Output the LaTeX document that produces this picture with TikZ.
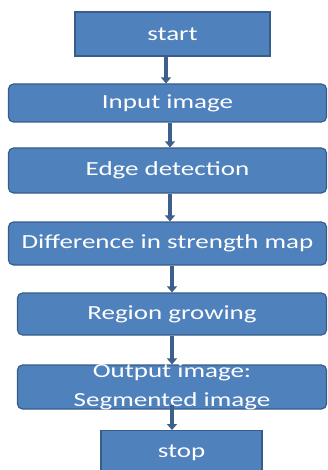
\documentclass[tikz,border=0pt]{standalone}
\usepackage{fontspec}
\setmainfont[FakeStretch=1.35]{Carlito}
\usetikzlibrary{arrows.meta}
\definecolor{boxfill}{HTML}{4F81BD}
\definecolor{boxline}{HTML}{385D8A}
\definecolor{arrowc}{HTML}{3C5F8C}
\begin{document}
\begin{tikzpicture}[x=1pt,y=-1pt,
  sharpbox/.style={draw=boxline,line width=1.2pt,fill=boxfill,text=white,font=\fontsize{20}{29}\selectfont},
  roundbox/.style={sharpbox,rounded corners=5pt},
  flowarrow/.style={draw=arrowc,line width=3.5pt,-{Triangle[width=10pt,length=6pt]}}]
\useasboundingbox (0,0) rectangle (327,470);
\node[sharpbox,minimum width=195,minimum height=44] (start) at (172.5,34) {start};
\node[roundbox,minimum width=318,minimum height=38] (input) at (167.5,103) {Input image};
\node[roundbox,minimum width=318,minimum height=45] (edge) at (167.5,170.5) {Edge detection};
\node[roundbox,minimum width=318,minimum height=43] (diff) at (167.5,243.5) {Difference in strength map};
\node[roundbox,minimum width=309,minimum height=42] (region) at (172,314) {Region growing};
\node[roundbox,minimum width=309,minimum height=44] (output) at (172,387) {};
\node[text=white,font=\fontsize{20}{29}\selectfont,align=center] (outtext) at (172,387) {Output image:\\Segmented image};
\node[sharpbox,minimum width=161,minimum height=44,anchor=north] (stop) at (181.5,430) {stop};
\draw[flowarrow] (start.south -| 166,0) -- (input.north -| 166,0);
\draw[flowarrow] (input.south -| 170,0) -- (edge.north -| 170,0);
\draw[flowarrow] (edge.south -| 170,0) -- (diff.north -| 170,0);
\draw[flowarrow] (diff.south -| 172,0) -- (region.north -| 172,0);
\draw[flowarrow] (region.south -| 172,0) -- (output.north -| 172,0);
\draw[flowarrow] (172,405) -- (stop.north -| 172,0);
\end{tikzpicture}
\end{document}
